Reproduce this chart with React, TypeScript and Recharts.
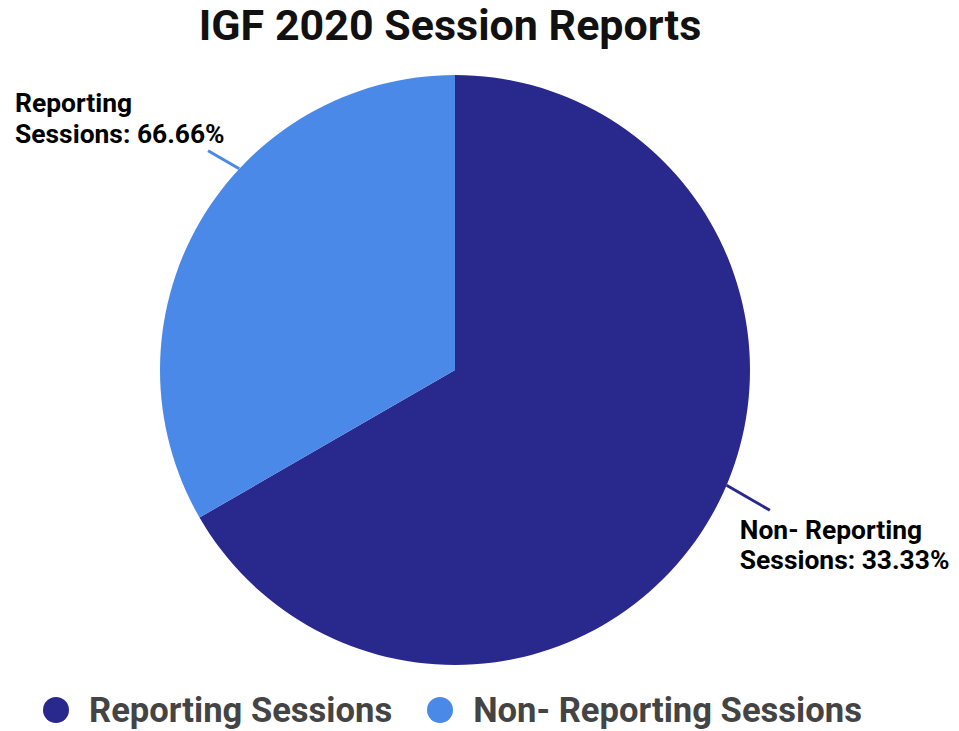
import { Legend, Pie, PieChart, Cell } from 'recharts'

const categories = ['Reporting Sessions', 'Non- Reporting Sessions']
const shares = [66.66, 33.33]
const sliceColors = ['#29288c', '#4a89e8']
// the labels as printed on the original chart, one per slice
const sliceLabels = [
  ['Non- Reporting', 'Sessions: 33.33%'],
  ['Reporting', 'Sessions: 66.66%'],
]

const data = categories.map((name, i) => ({ name, value: shares[i] }))

const FONT = 'Roboto, "Noto Sans", sans-serif'
const RAD = Math.PI / 180

// where the leader line leaves the rim and how the text sits next to its end
const labelLayout = [
  { rimShift: 7, len: 50, dx: -30, dy: [29, 59] },
  { rimShift: -13, len: 36, dx: -193, dy: [-39, -8] },
]

function SliceLabel(props: any) {
  const { cx, cy, midAngle, outerRadius, index, fill } = props
  const l = labelLayout[index]
  const a0 = (midAngle + l.rimShift) * RAD
  const x1 = cx + outerRadius * Math.cos(a0)
  const y1 = cy - outerRadius * Math.sin(a0)
  const x2 = x1 + l.len * Math.cos(midAngle * RAD)
  const y2 = y1 - l.len * Math.sin(midAngle * RAD)
  const lines = sliceLabels[index]
  return (
    <g>
      <line x1={x1} y1={y1} x2={x2} y2={y2} stroke={fill} strokeWidth={3} />
      {lines.map((t, k) => (
        <text
          key={k}
          x={x2 + l.dx}
          y={y2 + l.dy[k]}
          fill="#000"
          fontFamily={FONT}
          fontWeight={700}
          fontSize={26.4}
        >
          {t}
        </text>
      ))}
    </g>
  )
}

function LegendRow() {
  return (
    <div style={{ display: 'flex', alignItems: 'center', paddingLeft: 43 }}>
      {categories.map((name, i) => (
        <div key={name} style={{ display: 'flex', alignItems: 'center', marginRight: 35 }}>
          <span
            style={{
              display: 'inline-block',
              width: 26,
              height: 26,
              borderRadius: '50%',
              background: sliceColors[i],
              marginRight: 20,
            }}
          />
          <span
            style={{
              fontFamily: FONT,
              fontWeight: 700,
              fontSize: 34.6,
              color: '#444',
              whiteSpace: 'nowrap',
            }}
          >
            {name}
          </span>
        </div>
      ))}
    </div>
  )
}

export default function App() {
  return (
    <div style={{ position: 'absolute', left: 0, top: 0, width: 959, height: 731, background: '#fff' }}>
      <div
        style={{
          position: 'absolute',
          left: 0,
          top: 3,
          width: 900,
          textAlign: 'center',
          fontFamily: FONT,
          fontWeight: 700,
          fontSize: 43,
          lineHeight: '44px',
          color: '#111',
          zIndex: 1,
        }}
      >
        IGF 2020 Session Reports
      </div>
      <PieChart width={959} height={731} margin={{ top: 0, right: 0, bottom: 0, left: 0 }}>
        <Pie
          data={data}
          dataKey="value"
          nameKey="name"
          cx={455}
          cy={370}
          outerRadius={295}
          startAngle={90}
          endAngle={-270}
          stroke="none"
          label={SliceLabel}
          labelLine={false}
          isAnimationActive={false}
        >
          {data.map((d, i) => (
            <Cell key={d.name} fill={sliceColors[i]} />
          ))}
        </Pie>
        <Legend
          content={() => <LegendRow />}
          wrapperStyle={{ position: 'absolute', left: 0, top: 690, width: 959 }}
        />
      </PieChart>
    </div>
  )
}
